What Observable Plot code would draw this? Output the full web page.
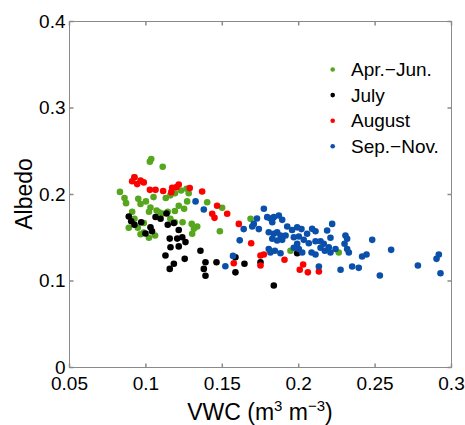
<!DOCTYPE html>
<html><head><meta charset="utf-8">
<script src="https://cdn.jsdelivr.net/npm/d3@7"></script>
<script src="https://cdn.jsdelivr.net/npm/@observablehq/plot@0.6"></script>
<style>body{margin:0;background:#fff;}</style>
</head><body><div id="chart"></div>
<script>
const seriesNames = ["Apr.\u2212Jun.", "July", "August", "Sep.\u2212Nov."];
const seriesColors = ["#56a61e", "#000000", "#ff0000", "#0a50ab"];

const aprJunVWC = [0.1035,0.1026,0.111,0.0925,0.083,0.086,0.087,0.095,0.0965,0.100,0.105,0.113,0.116,0.119,0.123,0.1266,0.128,0.103,0.102,0.107,0.1107,0.1143,0.119,0.1215,0.127,0.125,0.091,0.0925,0.0986,0.0888,0.0947,0.0986,0.102,0.106,0.0965,0.116,0.119,0.124,0.130,0.1336,0.1314,0.1401,0.1499,0.1484,0.1685,0.1946,0.1303,0.2262,0.1085];
const aprJunAlbedo = [0.241,0.238,0.232,0.220,0.203,0.196,0.190,0.195,0.189,0.192,0.197,0.196,0.199,0.2015,0.2046,0.2066,0.2015,0.185,0.180,0.1815,0.178,0.180,0.181,0.187,0.192,0.1835,0.180,0.172,0.167,0.1615,0.1615,0.156,0.150,0.1526,0.154,0.172,0.168,0.168,0.166,0.163,0.1604,0.191,0.1846,0.1576,0.172,0.135,0.1546,0.133,0.1795];

const julyVWC = [0.0888,0.0904,0.0925,0.0969,0.0997,0.103,0.104,0.1063,0.1096,0.1135,0.1143,0.1183,0.1215,0.1156,0.1205,0.1238,0.1259,0.1215,0.1161,0.1128,0.1183,0.1156,0.1254,0.1357,0.139,0.1379,0.139,0.1462,0.1586,0.1586,0.1645,0.175,0.1837,0.199];
const julyAlbedo = [0.1746,0.169,0.165,0.168,0.155,0.162,0.1576,0.174,0.172,0.178,0.165,0.167,0.159,0.149,0.149,0.1506,0.145,0.140,0.139,0.1295,0.120,0.114,0.1256,0.135,0.1217,0.114,0.106,0.1217,0.1275,0.110,0.120,0.1217,0.0948,0.132];

const augustVWC = [0.091,0.0925,0.0965,0.0986,0.0943,0.1026,0.1063,0.1113,0.1166,0.120,0.1215,0.1172,0.1287,0.1368,0.1466,0.1434,0.1449,0.1532,0.1608,0.1689,0.175,0.1772,0.175,0.1575,0.1907,0.2029,0.2007,0.206,0.2132];
const augustAlbedo = [0.2154,0.220,0.216,0.214,0.212,0.2054,0.2054,0.204,0.2027,0.2085,0.2116,0.2077,0.2074,0.2035,0.187,0.1777,0.173,0.1777,0.166,0.1437,0.1295,0.1306,0.118,0.1206,0.1245,0.119,0.113,0.110,0.111];

const sepNovVWC = [0.1325,0.1379,0.164,0.1614,0.157,0.152,0.1706,0.1727,0.1696,0.1739,0.1772,0.1815,0.1804,0.2132,
  0.1794,0.1837,0.1870,0.1892,0.1827,0.1925,0.1957,0.1990,0.2018,0.1804,0.1837,0.1859,0.1881,0.1914,0.1892,0.1859,0.1827,0.1968,0.2001,0.2033,0.2055,0.2088,0.2110,0.2066,0.2110,0.2143,0.2186,0.2208,0.2164,0.2143,0.2197,0.1990,0.1968,0.2001,0.2023,0.2084,0.2110,0.2171,0.1881,0.1844,0.1815,0.2219,
  0.2306,0.2317,0.230,0.2241,0.2208,0.2317,0.2328,0.2274,0.2350,0.2393,0.2415,0.2444,0.2481,0.2605,0.2531,0.2780,0.2902,0.2917,0.2928];
const sepNovAlbedo = [0.192,0.1827,0.160,0.147,0.129,0.117,0.166,0.1723,0.163,0.160,0.1835,0.1723,0.137,0.1168,
  0.1738,0.1738,0.1757,0.1707,0.168,0.163,0.159,0.162,0.160,0.1564,0.1546,0.1564,0.1526,0.1526,0.1476,0.1468,0.1488,0.1506,0.1514,0.1476,0.1546,0.1603,0.1576,0.1437,0.146,0.146,0.1584,0.150,0.143,0.1384,0.139,0.143,0.1384,0.137,0.133,0.133,0.1306,0.135,0.132,0.135,0.133,0.166,
  0.1526,0.1488,0.143,0.137,0.133,0.137,0.133,0.113,0.1168,0.1152,0.1283,0.1306,0.1476,0.136,0.1064,0.118,0.1256,0.1306,0.109];

const xDomain = [0.05, 0.3];
const yDomain = [0, 0.4];
const xTicks = [0.05, 0.1, 0.15, 0.2, 0.25, 0.3];
const xTickLabels = ["0.05", "0.1", "0.15", "0.2", "0.25", "0.3"];
const yTicks = [0, 0.1, 0.2, 0.3, 0.4];
const yTickLabels = ["0", "0.1", "0.2", "0.3", "0.4"];

const data = [];
[[aprJunVWC, aprJunAlbedo], [julyVWC, julyAlbedo], [augustVWC, augustAlbedo], [sepNovVWC, sepNovAlbedo]]
  .forEach(([xs, ys], k) => xs.forEach((x, i) => data.push({vwc: x, albedo: ys[i], series: seriesNames[k]})));

const tickLen = 4;
const tickSym = (dx, dy) => ({draw(ctx) { ctx.moveTo(0, 0); ctx.lineTo(dx, dy); }});
const frameColor = "#8a8a8a";

const chart = Plot.plot({
  width: 465, height: 425,
  marginLeft: 69, marginRight: 14, marginTop: 21, marginBottom: 58,
  style: {fontFamily: "'Liberation Sans', Arial, sans-serif", fontSize: "19px", background: "#fff", color: "#000"},
  x: {domain: xDomain, label: null},
  y: {domain: yDomain, label: null},
  color: {domain: seriesNames, range: seriesColors},
  marks: [
    Plot.dot(data, {x: "vwc", y: "albedo", fill: "series", r: 3.3}),
    Plot.frame({stroke: frameColor}),
    Plot.dot(xTicks, {x: d => d, y: () => yDomain[0], symbol: tickSym(0, -tickLen), stroke: frameColor, fill: "none"}),
    Plot.dot(xTicks, {x: d => d, y: () => yDomain[1], symbol: tickSym(0, tickLen), stroke: frameColor, fill: "none"}),
    Plot.dot(yTicks, {y: d => d, x: () => xDomain[0], symbol: tickSym(tickLen, 0), stroke: frameColor, fill: "none"}),
    Plot.dot(yTicks, {y: d => d, x: () => xDomain[1], symbol: tickSym(-tickLen, 0), stroke: frameColor, fill: "none"}),
    Plot.axisX(xTicks, {tickSize: 0, tickPadding: 9, tickFormat: d => xTickLabels[xTicks.indexOf(d)], label: null}),
    Plot.axisY(yTicks, {tickSize: 0, tickPadding: 4, tickFormat: d => yTickLabels[yTicks.indexOf(d)], label: null})
  ]
});
document.getElementById("chart").appendChild(chart);

const svg = d3.select(chart);
const font = "'Liberation Sans', Arial, sans-serif";
// x axis title with superscripts
const xl = svg.append("text").attr("x", 260).attr("y", 420).attr("text-anchor", "middle")
  .style("font-family", font).style("font-size", "23px").attr("fill", "#000");
xl.append("tspan").text("VWC (m");
xl.append("tspan").attr("dy", -9).style("font-size", "15px").text("3");
xl.append("tspan").attr("dy", 9).text(" m");
xl.append("tspan").attr("dy", -9).style("font-size", "15px").text("\u22123");
xl.append("tspan").attr("dy", 9).text(")");
// y axis title
svg.append("text").attr("transform", "translate(32,194) rotate(-90)").attr("text-anchor", "middle")
  .style("font-family", font).style("font-size", "23px").attr("fill", "#000").text("Albedo");
// legend
const lg = svg.append("g").style("font-family", font).style("font-size", "19px").attr("text-anchor", "start");
seriesNames.forEach((name, i) => {
  const cy = 69.5 + i * 25.6;
  lg.append("circle").attr("cx", 332.7).attr("cy", cy).attr("r", 2.3).attr("fill", seriesColors[i]);
  lg.append("text").attr("x", 351).attr("y", cy + 6.7).attr("text-anchor", "start").attr("fill", "#000").text(name);
});
</script>
</body></html>
